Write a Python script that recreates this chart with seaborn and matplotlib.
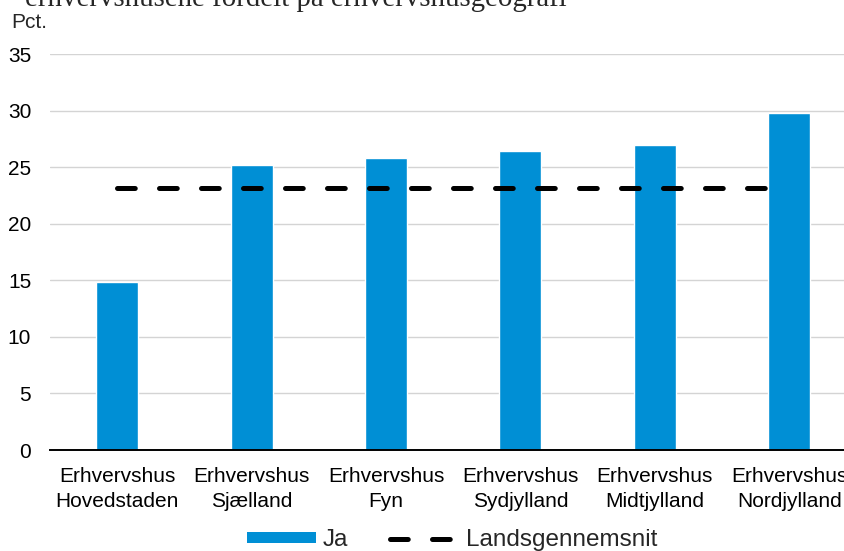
import numpy as np
import pandas as pd
import matplotlib
matplotlib.use("Agg")
import matplotlib.pyplot as plt
import seaborn as sns
from matplotlib.patches import Patch
from matplotlib.lines import Line2D

# ---- data ----
categories = [
    "Erhvervshus\nHovedstaden",
    "Erhvervshus\nSjælland",
    "Erhvervshus\nFyn",
    "Erhvervshus\nSydjylland",
    "Erhvervshus\nMidtjylland",
    "Erhvervshus\nNordjylland",
]
ja_values = [14.85, 25.2, 25.85, 26.45, 27.0, 29.8]
landsgennemsnit = [23.15, 23.15, 23.15, 23.15, 23.15, 23.15]
y_ticks = [0, 5, 10, 15, 20, 25, 30, 35]
title_text = "erhvervshusene fordelt på erhvervshusgeografi"
y_unit = "Pct."
legend_labels = ["Ja", "Landsgennemsnit"]

BLUE = "#008FD5"

sns.set_theme(style="white")
plt.rcParams["font.family"] = ["Liberation Sans", "DejaVu Sans"]

W, H = 845, 551
fig = plt.figure(figsize=(W / 100, H / 100), dpi=100)

# axes geometry in pixels
left_px, bottom_px, top_px = 50, 450, 54.3
slot_px = 134.4
ax = fig.add_axes([left_px / W, (H - bottom_px) / H, (W - left_px) / W, (bottom_px - top_px) / H])

df = pd.DataFrame({"cat": categories, "val": ja_values})
sns.barplot(data=df, x="cat", y="val", color=BLUE, saturation=1, width=0.3125,
            ax=ax, zorder=2)

pos = np.arange(len(categories))
lw_pt = 3.6
ax.plot(pos, landsgennemsnit, color="black", lw=lw_pt, dashes=(3.55, 4.85),
        dash_capstyle="round", zorder=3)

ax.set_xlim(-0.5, -0.5 + (W - left_px) / slot_px)
ax.set_ylim(0, 35)
ax.set_yticks(y_ticks)
ax.set_yticklabels([str(t) for t in y_ticks])
ax.set_xlabel("")
ax.set_ylabel("")

ax.set_axisbelow(True)
ax.yaxis.grid(True, color="#D4D4D4", lw=1.0)
ax.xaxis.grid(False)
for s in ["top", "right", "left"]:
    ax.spines[s].set_visible(False)
ax.spines["bottom"].set_color("black")
ax.spines["bottom"].set_linewidth(1.4)
ax.spines["bottom"].set_zorder(4)

ax.tick_params(axis="both", length=0, colors="black")
ax.tick_params(axis="y", pad=13.5, labelsize=15)
ax.tick_params(axis="x", pad=12, labelsize=15)
for lab in ax.get_xticklabels():
    lab.set_linespacing(1.42)

# unit label and clipped title
fig.text(11 / W, 1 - 28 / H, y_unit, fontsize=15, ha="left", va="baseline")
fig.text(25 / W, 1 - 5.5 / H, title_text, fontsize=20.8, ha="left", va="baseline",
         family=["Liberation Serif", "DejaVu Serif"])

handles = [
    Patch(facecolor=BLUE, edgecolor="none"),
    Line2D([0], [0], color="black", lw=lw_pt, dashes=(3.55, 4.85), dash_capstyle="round"),
]
fig.legend(handles, legend_labels, loc="center", bbox_to_anchor=(452 / W, 1 - 540 / H),
           ncol=2, frameon=False, fontsize=17.5, handlelength=2.83, handleheight=0.34,
           handletextpad=0.3, columnspacing=1.7, borderpad=0, borderaxespad=0)

fig.savefig("out.png", dpi=100)
